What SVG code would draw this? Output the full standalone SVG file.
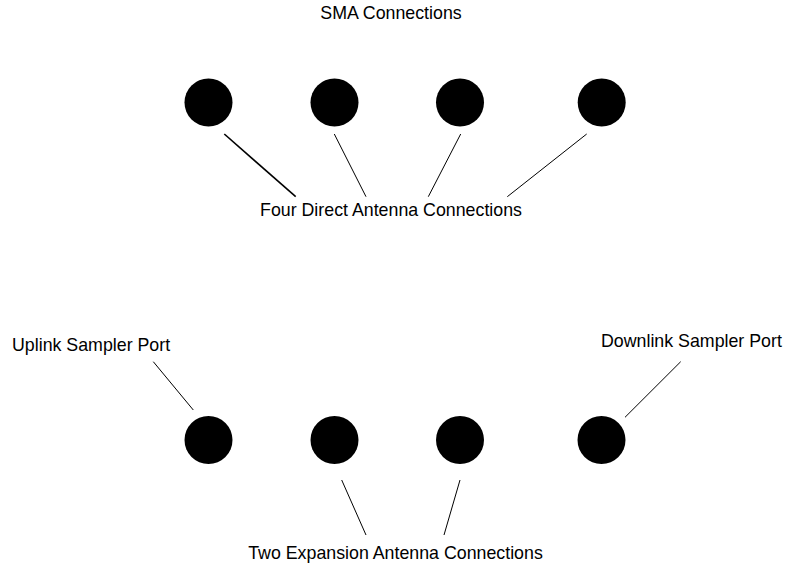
<svg xmlns="http://www.w3.org/2000/svg" width="788" height="567" viewBox="0 0 788 567">
<style>
.port{fill:#000}
.lbl{font-family:"Liberation Sans",Arial,sans-serif;font-size:17.8px;fill:#000}
.c{stroke:#000;stroke-width:1;fill:none}
</style>
<rect width="788" height="567" fill="#fff"/>
<g id="title"><text class="lbl" x="391" y="19" text-anchor="middle">SMA Connections</text></g>
<g id="top1"><circle class="port" cx="208.5" cy="102.5" r="24"/></g>
<g id="top2"><circle class="port" cx="334.5" cy="102.5" r="24"/></g>
<g id="top3"><circle class="port" cx="460" cy="102.5" r="24"/></g>
<g id="top4"><circle class="port" cx="601.7" cy="102.5" r="24"/></g>
<g id="bot1"><circle class="port" cx="208.5" cy="440" r="24"/></g>
<g id="bot2"><circle class="port" cx="334.5" cy="440" r="24"/></g>
<g id="bot3"><circle class="port" cx="460" cy="440" r="24"/></g>
<g id="bot4"><circle class="port" cx="601.5" cy="440" r="24"/></g>
<g id="fourDirect"><text class="lbl" x="391" y="216" text-anchor="middle">Four Direct Antenna Connections</text></g>
<g id="uplink"><text class="lbl" x="12" y="351">Uplink Sampler Port</text></g>
<g id="downlink"><text class="lbl" x="601" y="347">Downlink Sampler Port</text></g>
<g id="twoExp"><text class="lbl" x="395.5" y="559" text-anchor="middle">Two Expansion Antenna Connections</text></g>
<g id="connectors">
<line class="c" x1="224.3" y1="134" x2="295.7" y2="196.7" style="stroke-width:1.6"/>
<line class="c" x1="334.3" y1="134" x2="366" y2="196.7"/>
<line class="c" x1="460.7" y1="134" x2="428.3" y2="196.7"/>
<line class="c" x1="586.7" y1="134" x2="507.3" y2="196.7"/>
<line class="c" x1="153.3" y1="361.7" x2="193.3" y2="410"/>
<line class="c" x1="680.7" y1="361.7" x2="625" y2="417.3"/>
<line class="c" x1="341.7" y1="480" x2="366" y2="535"/>
<line class="c" x1="460" y1="480" x2="444" y2="535"/>
</g>
</svg>
